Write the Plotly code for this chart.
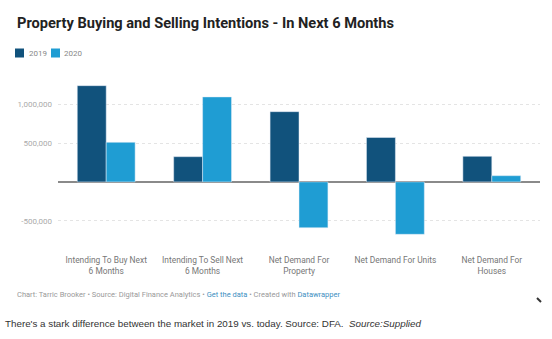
import plotly.graph_objects as go

categories = [
    "Intending To Buy Next<br>6 Months",
    "Intending To Sell Next<br>6 Months",
    "Net Demand For<br>Property",
    "Net Demand For Units",
    "Net Demand For<br>Houses",
]
values_2019 = [1240000, 325000, 905000, 572000, 330000]
values_2020 = [510000, 1095000, -590000, -675000, 80000]
y_tick_vals = [-500000, 500000, 1000000]
y_tick_text = ["-500,000", "500,000", "1,000,000"]

COLOR_2019 = "#11527c"
COLOR_2020 = "#1f9dd3"

W, H = 552, 339
L, R, T, B = 58, 12, 81, 95
PW, PH = W - L - R, H - T - B


def px(x):
    return (x - L) / PW


def py(y):
    return (H - B - y) / PH


fig = go.Figure()
fig.add_trace(go.Bar(name="2019", x=categories, y=values_2019, marker_color=COLOR_2019))
fig.add_trace(go.Bar(name="2020", x=categories, y=values_2020, marker_color=COLOR_2020))

annotations = [
    dict(text="<b>Property Buying and Selling Intentions - In Next 6 Months</b>",
         x=px(15), y=py(23), xanchor="left", yanchor="middle",
         font=dict(family="Roboto", size=14.6, color="#222222")),
    dict(text="2019", x=px(27), y=py(53), xanchor="left", yanchor="middle",
         font=dict(family="Roboto", size=8, color="#888888")),
    dict(text="2020", x=px(62), y=py(53), xanchor="left", yanchor="middle",
         font=dict(family="Roboto", size=8, color="#888888")),
    dict(text="Chart: Tarric Brooker • Source: Digital Finance Analytics • "
              "<span style='color:#3d8fbf'>Get the data</span> • Created with "
              "<span style='color:#3d8fbf'>Datawrapper</span>",
         x=px(15), y=py(294), xanchor="left", yanchor="middle",
         font=dict(family="Roboto", size=7.5, color="#999999")),
    dict(text="There's a stark difference between the market in 2019 vs. today. Source: DFA.  "
              "<i>Source:Supplied</i>",
         x=px(3), y=py(323), xanchor="left", yanchor="middle",
         font=dict(family="Liberation Sans", size=9.8, color="#333333")),
]
for a in annotations:
    a.update(xref="paper", yref="paper", showarrow=False)

shapes = [
    dict(type="rect", x0=px(15), x1=px(24), y0=py(57.5), y1=py(48.5),
         fillcolor=COLOR_2019, line_width=0),
    dict(type="rect", x0=px(51), x1=px(60), y0=py(57.5), y1=py(48.5),
         fillcolor=COLOR_2020, line_width=0),
    dict(type="line", x0=px(537), x1=px(541), y0=py(298), y1=py(302),
         line=dict(color="#333333", width=2)),
]
for s in shapes:
    s.update(xref="paper", yref="paper")

fig.update_layout(
    width=W, height=H,
    margin=dict(l=L, r=R, t=T, b=B, pad=0),
    paper_bgcolor="white", plot_bgcolor="white",
    barmode="group", bargap=0.4, bargroupgap=0,
    showlegend=False,
    annotations=annotations, shapes=shapes,
    font=dict(family="Roboto"),
)
fig.update_xaxes(
    showgrid=False, showline=False, ticks="",
    tickfont=dict(family="Roboto", size=8.4, color="#777777"),
    tickangle=0,
    ticklabelstandoff=10,
)
fig.update_yaxes(
    range=[-800000, 1300000],
    tickvals=y_tick_vals, ticktext=y_tick_text,
    showgrid=True, gridcolor="#e4e4e4", griddash="dot", gridwidth=1,
    zeroline=True, zerolinecolor="#8a8a8a", zerolinewidth=1.5,
    showline=False, ticks="",
    tickfont=dict(family="Roboto", size=8, color="#aaaaaa"),
    ticklabelstandoff=5,
)

fig.write_html("out.html")
